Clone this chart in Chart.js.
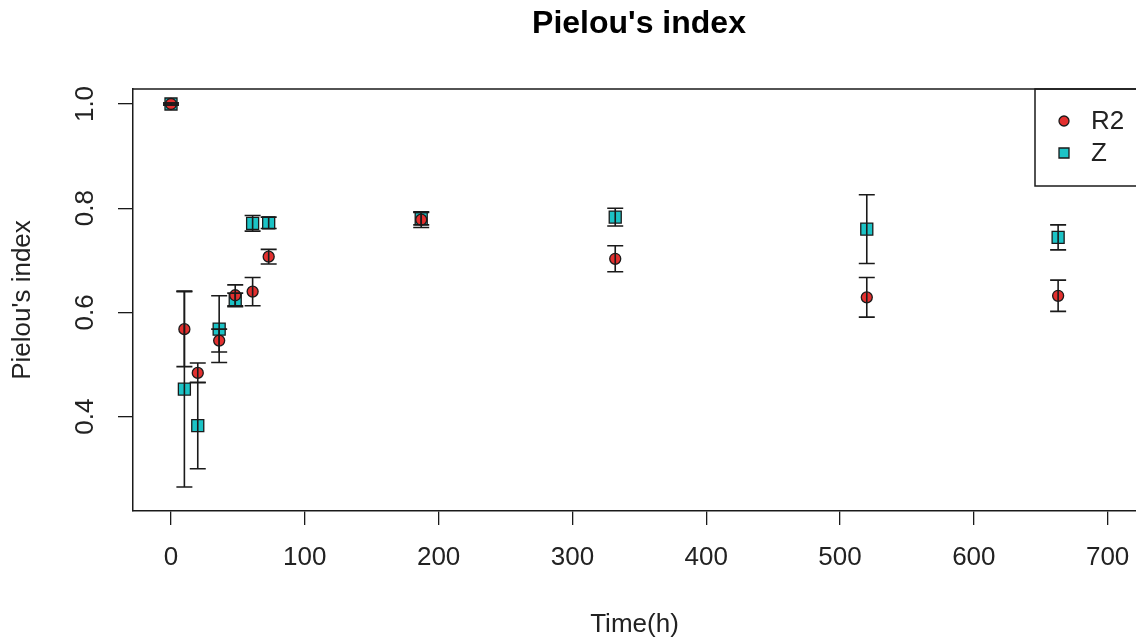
<!DOCTYPE html>
<html>
<head>
<meta charset="utf-8">
<script src="https://cdn.jsdelivr.net/npm/chart.js@4/dist/chart.umd.min.js"></script>
<style>
  html, body { margin: 0; padding: 0; background: #fff; }
  canvas { display: block; }
</style>
</head>
<body>
<canvas id="chart" width="1136" height="644"></canvas>
<script>
// Sampling times (h) and Pielou's evenness, mean and error for each reactor.
var time = [0, 10, 20, 36, 48, 61, 73, 187, 332, 520, 663];
var r2Mean = [1.0, 0.568, 0.484, 0.546, 0.633, 0.640, 0.707, 0.778, 0.703, 0.629, 0.632];
var r2Err = [0.002, 0.072, 0.019, 0.022, 0.020, 0.027, 0.014, 0.015, 0.025, 0.038, 0.030];
var zMean = [1.0, 0.453, 0.383, 0.568, 0.624, 0.771, 0.772, 0.780, 0.783, 0.760, 0.744];
var zErr = [0.002, 0.188, 0.083, 0.064, 0.013, 0.015, 0.011, 0.012, 0.017, 0.066, 0.024];

var seriesNames = ['R2', 'Z'];
var xTicks = [0, 100, 200, 300, 400, 500, 600, 700];
var yTicks = [0.4, 0.6, 0.8, 1.0];

var FONT = '"Liberation Sans", Arial, sans-serif';
var INK = '#1a1a1a';
var RED = '#E3302F';
var CYAN = '#1CC3C6';

function toPoints(xs, ys, errs) {
  var pts = [];
  for (var i = 0; i < xs.length; ++i)
    pts.push({x: xs[i], y: ys[i], err: errs[i]});
  return pts;
}

// Vertical error bars with caps, drawn over the points like arrows() in R.
var errorBars = {
  id: 'errorBars',
  afterDatasetsDraw: function(chart) {
    var ctx = chart.ctx;
    var xs = chart.scales.x, ys = chart.scales.y;
    ctx.save();
    ctx.strokeStyle = INK;
    ctx.lineWidth = 1.6;
    chart.data.datasets.forEach(function(ds) {
      ds.data.forEach(function(p) {
        var px = xs.getPixelForValue(p.x);
        var top = ys.getPixelForValue(p.y + p.err);
        var bot = ys.getPixelForValue(p.y - p.err);
        ctx.beginPath();
        ctx.moveTo(px, top); ctx.lineTo(px, bot);
        ctx.moveTo(px - 8, top); ctx.lineTo(px + 8, top);
        ctx.moveTo(px - 8, bot); ctx.lineTo(px + 8, bot);
        ctx.stroke();
      });
    });
    ctx.restore();
  }
};

// Box top, main title, tick labels (R style) and the legend box.
var decorations = {
  id: 'decorations',
  afterDraw: function(chart) {
    var ctx = chart.ctx;
    var area = chart.chartArea;
    var xs = chart.scales.x, ys = chart.scales.y;
    ctx.save();
    ctx.strokeStyle = INK;
    ctx.lineWidth = 1.5;
    ctx.beginPath();
    ctx.moveTo(area.left, area.top);
    ctx.lineTo(chart.width, area.top);
    ctx.stroke();

    ctx.fillStyle = '#000';
    ctx.font = 'bold 32px ' + FONT;
    ctx.textAlign = 'center';
    ctx.textBaseline = 'middle';
    ctx.fillText("Pielou's index", 639, 24);

    ctx.fillStyle = '#222';
    ctx.font = '26px ' + FONT;
    xTicks.forEach(function(v) {
      ctx.fillText(String(v), xs.getPixelForValue(v), 558);
    });
    yTicks.forEach(function(v) {
      ctx.save();
      ctx.translate(86, ys.getPixelForValue(v));
      ctx.rotate(-Math.PI / 2);
      ctx.fillText(v.toFixed(1), 0, 0);
      ctx.restore();
    });

    // legend
    var lx = 1035, ltop = area.top, lbot = 186;
    ctx.strokeRect(lx, ltop, 200, lbot - ltop);
    var rows = [{y: 121, color: RED, style: 'circle'}, {y: 153, color: CYAN, style: 'rect'}];
    rows.forEach(function(r, i) {
      ctx.fillStyle = r.color;
      ctx.strokeStyle = INK;
      ctx.lineWidth = 1.3;
      ctx.beginPath();
      if (r.style === 'circle')
        ctx.arc(1064, r.y, 5, 0, Math.PI * 2);
      else
        ctx.rect(1059, r.y - 5, 10, 10);
      ctx.fill();
      ctx.stroke();
      ctx.fillStyle = '#222';
      ctx.textAlign = 'left';
      ctx.fillText(seriesNames[i], 1091, r.y + 1);
    });
    ctx.restore();
  }
};

new Chart(document.getElementById('chart'), {
  type: 'scatter',
  data: {
    datasets: [
      {
        label: seriesNames[0],
        data: toPoints(time, r2Mean, r2Err),
        pointStyle: 'circle',
        pointRadius: 5.5,
        pointHoverRadius: 5.5,
        backgroundColor: RED,
        borderColor: INK,
        borderWidth: 1.3
      },
      {
        label: seriesNames[1],
        data: toPoints(time, zMean, zErr),
        pointStyle: 'rect',
        pointRadius: 8.5,
        pointHoverRadius: 8.5,
        backgroundColor: CYAN,
        borderColor: INK,
        borderWidth: 1.3
      }
    ]
  },
  options: {
    responsive: false,
    animation: false,
    // the plot box runs off the right edge in the original
    layout: {autoPadding: false, padding: {top: 89, left: 0, right: 0, bottom: 0}},
    plugins: {
      legend: {display: false},
      title: {display: false},
      tooltip: {enabled: false}
    },
    scales: {
      x: {
        type: 'linear',
        min: -28.4,
        max: 721.2,
        afterBuildTicks: function(scale) {
          scale.ticks = xTicks.map(function(v) { return {value: v}; });
        },
        afterFit: function(scale) { scale.height = 133; },
        grid: {drawOnChartArea: false, drawTicks: true, tickLength: 14, color: INK, lineWidth: 1.3},
        border: {display: true, color: INK, width: 1.5},
        // labels are drawn by the plugin, so the scale keeps no side padding for them
        ticks: {display: false},
        title: {
          display: true,
          text: 'Time(h)',
          color: '#222',
          font: {family: FONT, size: 26},
          padding: {top: 0, bottom: 4}
        }
      },
      y: {
        type: 'linear',
        min: 0.219,
        max: 1.0288,
        afterBuildTicks: function(scale) {
          scale.ticks = yTicks.map(function(v) { return {value: v}; });
        },
        afterFit: function(scale) { scale.width = 133; },
        grid: {drawOnChartArea: false, drawTicks: true, tickLength: 15, color: INK, lineWidth: 1.3},
        border: {display: true, color: INK, width: 1.5},
        ticks: {display: false},
        title: {
          display: true,
          text: "Pielou's index",
          color: '#222',
          font: {family: FONT, size: 26},
          padding: {top: 7, bottom: 0}
        }
      }
    }
  },
  plugins: [errorBars, decorations]
});
</script>
</body>
</html>
